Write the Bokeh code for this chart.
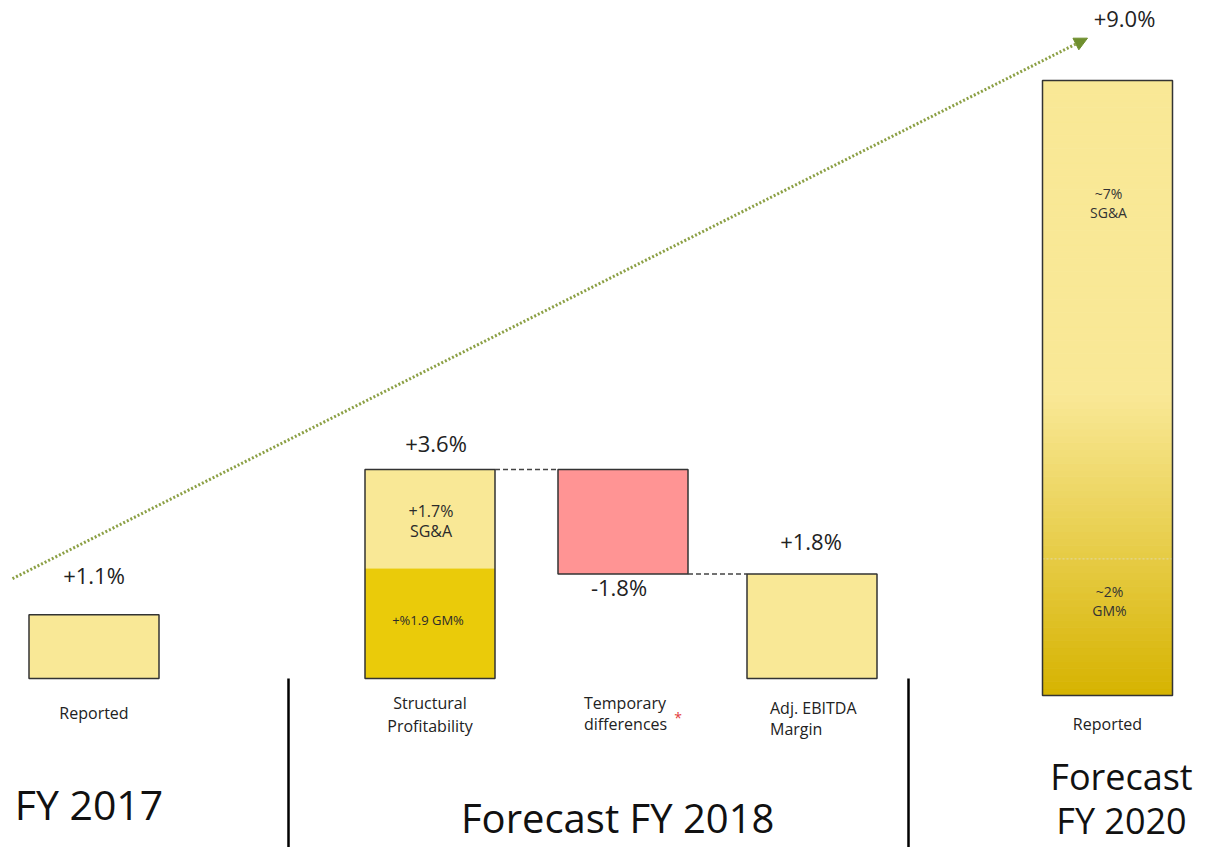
from bokeh.plotting import figure
from bokeh.models import ColumnDataSource, Range1d, Arrow, NormalHead
from bokeh.core.properties import value
from bokeh.embed import file_html
from bokeh.resources import INLINE
import numpy as np

# ---------------- data ----------------
categories = ["Reported", "Structural\nProfitability", "Temporary\ndifferences",
              "Adj. EBITDA\nMargin", "Reported"]
groups = ["FY 2017", "Forecast FY 2018", "Forecast\nFY 2020"]
fy2017_reported = 1.1
structural_gm = 1.9
structural_sga = 1.7
temporary_diff = -1.8
adj_ebitda = 1.8
fy2020_gm = 2.0
fy2020_sga = 7.0
inner_labels = ["+1.7%\nSG&A", "+%1.9 GM%", "~7%\nSG&A", "~2%\nGM%"]

# ---------------- layout / style ----------------
W, H = 1195, 847
FONT = value("Open Sans")
LIGHT, GOLD, SALMON = "#F9E896", "#EACB0A", "#FF9494"
DARK_GOLD = "#D6B300"
EDGE = "#333333"
centers = [93.5, 429.5, 622.5, 811.5, 1107.0]
bar_w = 130
TOP_PX, BOT_PX = 0, H
BASE_MAIN_PX, PX_PER_PCT_MAIN = 678, 58.06
BASE_2020_PX, PX_PER_PCT_2020 = 695, 68.33

main_lo = -(BOT_PX - BASE_MAIN_PX) / PX_PER_PCT_MAIN
main_hi = (BASE_MAIN_PX - TOP_PX) / PX_PER_PCT_MAIN
r20_lo = -(BOT_PX - BASE_2020_PX) / PX_PER_PCT_2020
r20_hi = (BASE_2020_PX - TOP_PX) / PX_PER_PCT_2020

p = figure(width=W, height=H, x_range=Range1d(0, W), y_range=Range1d(main_lo, main_hi),
           output_backend="svg", toolbar_location=None, min_border=0,
           x_axis_location=None, y_axis_location=None)
p.extra_y_ranges = {"fy2020": Range1d(r20_lo, r20_hi)}
p.grid.visible = False
p.outline_line_color = None
p.background_fill_color = "white"
p.border_fill_color = "white"

# derived values
sga_top = structural_gm + structural_sga          # 3.6
temp_bottom = sga_top + temporary_diff           # 1.8
fy2020_total = fy2020_gm + fy2020_sga            # 9.0

def L(i):
    return centers[i] - bar_w / 2

def R(i):
    return centers[i] + bar_w / 2

# ---- main-scale fills ----
fills = ColumnDataSource(dict(
    left=[L(0), L(1), L(1), L(2), L(3)],
    right=[R(0), R(1), R(1), R(2), R(3)],
    bottom=[0, 0, structural_gm, temp_bottom, 0],
    top=[fy2017_reported, structural_gm, sga_top, sga_top, adj_ebitda],
    color=[LIGHT, GOLD, LIGHT, SALMON, LIGHT],
))
p.quad(left="left", right="right", bottom="bottom", top="top", fill_color="color",
       line_color=None, source=fills)
outlines = ColumnDataSource(dict(
    left=[L(0), L(1), L(2), L(3)], right=[R(0), R(1), R(2), R(3)],
    bottom=[0, 0, temp_bottom, 0], top=[fy2017_reported, sga_top, sga_top, adj_ebitda],
))
p.quad(left="left", right="right", bottom="bottom", top="top", fill_color=None,
       line_color=EDGE, line_width=1.5, source=outlines)

# ---- FY 2020 gradient bar (own scale) ----
def hex2rgb(h):
    return np.array([int(h[i:i + 2], 16) for i in (1, 3, 5)], dtype=float)

c_light, c_dark = hex2rgb(LIGHT), hex2rgb(DARK_GOLD)
n = 90
edges = np.linspace(0, fy2020_total, n + 1)
mids = (edges[:-1] + edges[1:]) / 2
fade_top = 4.4
t = np.clip((fade_top - mids) / fade_top, 0, 1)
cols = ["#%02x%02x%02x" % tuple(int(round(v)) for v in (c_light + (c_dark - c_light) * k)) for k in t]
grad = ColumnDataSource(dict(left=[L(4)] * n, right=[R(4)] * n, bottom=edges[:-1], top=edges[1:], color=cols))
p.quad(left="left", right="right", bottom="bottom", top="top", fill_color="color",
       line_color="color", line_width=1, source=grad, y_range_name="fy2020")
p.segment(x0=[L(4)], x1=[R(4)], y0=[fy2020_gm], y1=[fy2020_gm], line_color="#E2D593",
          line_width=1.2, line_dash="2 2", y_range_name="fy2020")
p.quad(left=[L(4)], right=[R(4)], bottom=[0], top=[fy2020_total], fill_color=None,
       line_color=EDGE, line_width=1.5, y_range_name="fy2020")

# ---- waterfall connectors ----
p.segment(x0=[R(1), R(2)], x1=[L(2), L(3)], y0=[sga_top, temp_bottom], y1=[sga_top, temp_bottom],
          line_color="#444444", line_width=1.5, line_dash="5 3")

# ---- separators ----
p.segment(x0=[288, 908], x1=[288, 908], y0=[0, 0], y1=[main_lo, main_lo],
          line_color="black", line_width=2.5)

# ---- trend arrow ----
def main_from_2020(v):
    px = BASE_2020_PX - v * PX_PER_PCT_2020
    return (BASE_MAIN_PX - px) / PX_PER_PCT_MAIN

arrow = Arrow(end=NormalHead(size=13, fill_color="#6F8F2E", line_color="#6F8F2E"),
              x_start=L(0) - 16.5, y_start=fy2017_reported + 0.62,
              x_end=L(4) + 45, y_end=main_from_2020(fy2020_total + 0.62),
              line_color="#8CA045", line_width=3, line_dash="2 2")
p.add_layout(arrow)

# ---- value labels ----
vals_main = ColumnDataSource(dict(
    x=[centers[0], centers[1], centers[2], centers[3]],
    y=[fy2017_reported, sga_top, temp_bottom, adj_ebitda],
    text=[f"{v:+.1f}%" for v in [fy2017_reported, sga_top, temporary_diff, adj_ebitda]],
    yo=[-40, -26, 13, -33], xo=[0, 6, -4, -1],
))
p.text(x="x", y="y", text="text", x_offset="xo", y_offset="yo", source=vals_main,
       text_font=FONT, text_font_size="22px", text_align="center", text_baseline="middle",
       text_color="#222222")
p.text(x=[centers[4]], y=[fy2020_total], text=[f"{fy2020_total:+.1f}%"], x_offset=17, y_offset=-63,
       text_font=FONT, text_font_size="22px", text_align="center", text_baseline="middle",
       text_color="#222222", y_range_name="fy2020")

# ---- inner labels ----
p.text(x=[centers[1]], y=[structural_gm + structural_sga / 2], text=[inner_labels[0]], x_offset=1, y_offset=2,
       text_font=FONT, text_font_size="16px", text_align="center", text_baseline="middle",
       text_color="#2a2a2a", text_line_height=0.9)
p.text(x=[centers[1]], y=[structural_gm / 2], text=[inner_labels[1]], x_offset=-2, y_offset=-3,
       text_font=FONT, text_font_size="13px", text_align="center", text_baseline="middle",
       text_color="#2a2a2a")
p.text(x=[centers[4], centers[4]], y=[fy2020_total, fy2020_gm], text=[inner_labels[2], inner_labels[3]],
       x_offset=[1, 2], y_offset=[122, 42],
       text_font=FONT, text_font_size="14px", text_align="center", text_baseline="middle",
       text_color="#333333", text_line_height=1.0, y_range_name="fy2020")

# ---- category labels ----
p.text(x=[centers[0], centers[1]], y=[0, 0], text=[categories[0], categories[1]], y_offset=[34, 36],
       text_font=FONT, text_font_size="16px", text_align="center", text_baseline="middle",
       text_color="#222222", text_line_height=1.06)
p.text(x=[L(2) + 26, L(3) + 23], y=[0, 0], text=[categories[2], categories[3]], y_offset=[35, 40],
       text_font=FONT, text_font_size="16px", text_align="left", text_baseline="middle",
       text_color="#222222", text_line_height=0.95)
p.text(x=[L(2) + 120], y=[0], text=["*"], y_offset=[39],
       text_font=FONT, text_font_size="14px", text_align="center", text_baseline="middle",
       text_color="#E23B3B")
p.text(x=[centers[4]], y=[0], text=[categories[4]], y_offset=[28],
       text_font=FONT, text_font_size="16px", text_align="center", text_baseline="middle",
       text_color="#222222", y_range_name="fy2020")

# ---- group labels ----
p.text(x=[centers[0]], y=[0], text=[groups[0]], x_offset=-5, y_offset=125,
       text_font=FONT, text_font_size="41px", text_align="center", text_baseline="middle",
       text_color="#111111")
p.text(x=[(centers[1] + centers[2] + centers[3]) / 3], y=[0], text=[groups[1]], x_offset=-4, y_offset=139,
       text_font=FONT, text_font_size="40px", text_align="center", text_baseline="middle",
       text_color="#111111")
p.text(x=[centers[4]], y=[0], text=[groups[2]], x_offset=14, y_offset=103,
       text_font=FONT, text_font_size="36px", text_align="center", text_baseline="middle",
       text_color="#111111", text_line_height=0.9, y_range_name="fy2020")

open("out.html", "w").write(file_html(p, INLINE))
